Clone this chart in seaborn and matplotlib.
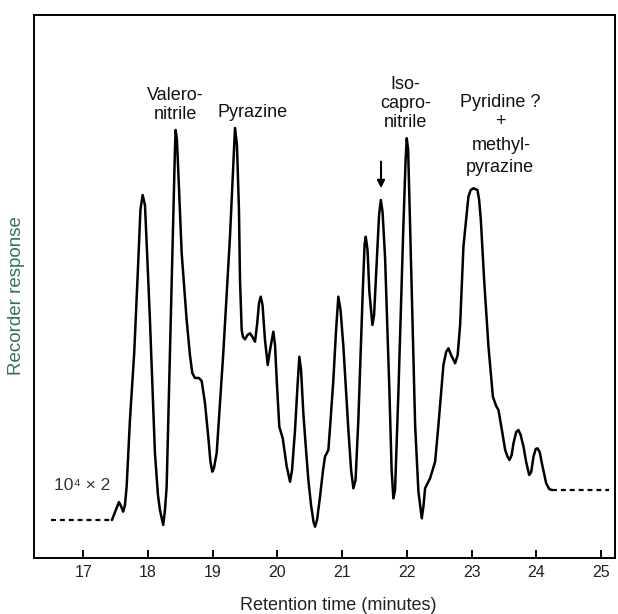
import matplotlib
matplotlib.use("Agg")
import matplotlib.pyplot as plt
import pandas as pd
import seaborn as sns

# ---- data (retention time in minutes, relative response) ----
time_min = [17.444, 17.505, 17.552, 17.583, 17.618, 17.645, 17.671, 17.722, 17.788, 17.845,
            17.884, 17.918, 17.954, 17.985, 18.031, 18.108, 18.155, 18.185, 18.236, 18.263,
            18.289, 18.340, 18.391, 18.417, 18.428, 18.448, 18.468, 18.521, 18.598, 18.649,
            18.685, 18.726, 18.788, 18.830, 18.881, 18.932, 18.966, 18.994, 19.020, 19.062,
            19.164, 19.267, 19.314, 19.345, 19.375, 19.406, 19.422, 19.448, 19.468, 19.499,
            19.538, 19.576, 19.615, 19.654, 19.685, 19.716, 19.742, 19.770, 19.808, 19.850,
            19.886, 19.937, 19.963, 19.989, 20.029, 20.082, 20.144, 20.195, 20.226, 20.272,
            20.311, 20.338, 20.365, 20.400, 20.442, 20.478, 20.519, 20.558, 20.581, 20.612,
            20.658, 20.705, 20.735, 20.787, 20.821, 20.864, 20.906, 20.941, 20.975, 21.019,
            21.096, 21.138, 21.173, 21.207, 21.250, 21.318, 21.346, 21.364, 21.392, 21.420,
            21.467, 21.493, 21.524, 21.570, 21.597, 21.624, 21.663, 21.730, 21.764, 21.791,
            21.817, 21.869, 21.946, 21.980, 21.998, 22.019, 22.049, 22.127, 22.178, 22.230,
            22.258, 22.281, 22.358, 22.436, 22.487, 22.564, 22.606, 22.641, 22.683, 22.745,
            22.784, 22.822, 22.873, 22.950, 22.985, 23.028, 23.090, 23.116, 23.142, 23.193,
            23.260, 23.328, 23.379, 23.414, 23.467, 23.518, 23.556, 23.584, 23.618, 23.646,
            23.688, 23.723, 23.757, 23.801, 23.842, 23.889, 23.920, 23.955, 23.989, 24.017,
            24.051, 24.085, 24.151, 24.198, 24.240]
response = [7.0, 8.84, 10.31, 9.58, 8.53, 9.76, 13.13, 25.41, 37.75, 53.04,
            64.09, 66.85, 65.01, 56.72, 43.83, 19.34, 11.60, 8.84, 6.08, 8.84,
            13.13, 37.75, 62.25, 75.14, 78.82, 76.98, 71.45, 56.17, 43.83, 37.38,
            34.07, 33.15, 33.15, 32.60, 28.55, 22.28, 17.68, 15.89, 16.57, 19.34,
            37.75, 59.12, 71.45, 79.19, 76.06, 64.09, 51.20, 41.99, 40.70, 40.28,
            41.07, 41.38, 40.70, 39.83, 42.91, 46.96, 48.12, 46.59, 40.15, 35.54,
            38.31, 41.68, 39.23, 32.78, 24.18, 22.04, 16.81, 14.05, 16.21, 23.57,
            31.86, 37.07, 34.62, 26.70, 19.89, 14.36, 9.76, 6.63, 5.76, 7.00,
            11.29, 16.21, 18.66, 19.89, 25.41, 32.78, 41.99, 48.12, 45.67, 38.91,
            23.57, 16.21, 12.84, 14.36, 25.41, 49.04, 57.64, 59.17, 56.72, 49.04,
            42.91, 44.75, 52.12, 63.17, 65.93, 63.72, 55.25, 30.63, 16.21, 10.99,
            12.52, 30.63, 61.33, 73.30, 77.29, 75.14, 61.33, 24.49, 12.21, 7.31,
            9.76, 12.84, 14.68, 17.73, 24.49, 35.54, 37.94, 38.62, 37.38, 35.86,
            37.38, 42.91, 57.33, 66.54, 67.77, 68.08, 67.77, 65.93, 62.25, 51.20,
            38.91, 29.71, 27.99, 27.26, 23.57, 19.89, 18.60, 18.05, 18.97, 21.12,
            23.20, 23.57, 22.65, 20.50, 17.68, 15.29, 15.84, 18.66, 20.07, 20.20,
            19.52, 17.44, 13.76, 12.71, 12.52]

# dashed baseline segments (before and after the recorded trace)
lead_time = [16.51, 17.444]
lead_resp = [7.0, 7.0]
tail_time = [24.240, 25.115]
tail_resp = [12.52, 12.52]

xticks = [17, 18, 19, 20, 21, 22, 23, 24, 25]
xtick_labels = [str(t) for t in xticks]

x_label = "Retention time (minutes)"
y_label = "Recorder response"
scale_note = "10\u2074 \u00d7 2"

# peak annotations: (text, time, response)
peak_labels = [
    ("Valero-\nnitrile", 18.42, 83.4),
    ("Pyrazine", 19.61, 82.1),
    ("Iso-\ncapro-\nnitrile", 21.98, 83.7),
    ("Pyridine ?", 23.44, 83.8),
    ("+", 23.44, 80.3),
    ("methyl-", 23.46, 76.0),
    ("pyrazine", 23.44, 72.0),
]
arrow_time = 21.60
arrow_from, arrow_to = 73.0, 68.1

# ---- styling ----
sns.set_style("white")
plt.rcParams["font.family"] = ["Liberation Sans", "DejaVu Sans"]

fig = plt.figure(figsize=(6.18, 6.14), dpi=100)
ax = fig.add_axes([0.0550, 0.0912, 0.9397, 0.8844])

trace = pd.DataFrame({"time": time_min, "response": response})
sns.lineplot(data=trace, x="time", y="response", sort=False, estimator=None,
             color="black", linewidth=1.8, ax=ax)
sns.lineplot(x=lead_time, y=lead_resp, color="black", linewidth=1.6,
             linestyle=(0, (2.2, 1.8)), ax=ax)
sns.lineplot(x=tail_time, y=tail_resp, color="black", linewidth=1.6,
             linestyle=(0, (2.2, 1.8)), ax=ax)

ax.set_xlim(16.24, 25.21)
ax.set_ylim(0, 100)
ax.set_xticks(xticks)
ax.set_xticklabels(xtick_labels, fontsize=11.5, color="#222222")
ax.set_yticks([])
ax.tick_params(axis="x", which="major", bottom=True, direction="in", length=6,
               width=1.4, pad=5, color="black")

for side in ["left", "right", "top", "bottom"]:
    ax.spines[side].set_visible(True)
    ax.spines[side].set_color("black")
    ax.spines[side].set_linewidth(1.4)

ax.set_xlabel(x_label, fontsize=13, color="#222222")
ax.xaxis.set_label_coords(0.5235, -0.072)
ax.set_ylabel(y_label, fontsize=13.5, color="#35705c")
ax.yaxis.set_label_coords(-0.016, 0.484)

for txt, t, r in peak_labels:
    ax.text(t, r, txt, ha="center", va="center", fontsize=13, color="#111111",
            linespacing=1.15)

ax.text(16.98, 13.3, scale_note, ha="center", va="center", fontsize=12.5, color="#333333")

ax.annotate("", xy=(arrow_time, arrow_to), xytext=(arrow_time, arrow_from),
            arrowprops=dict(arrowstyle="-|>", color="black", lw=1.5, mutation_scale=11,
                            shrinkA=0, shrinkB=0))

fig.savefig("out.png", dpi=100)
